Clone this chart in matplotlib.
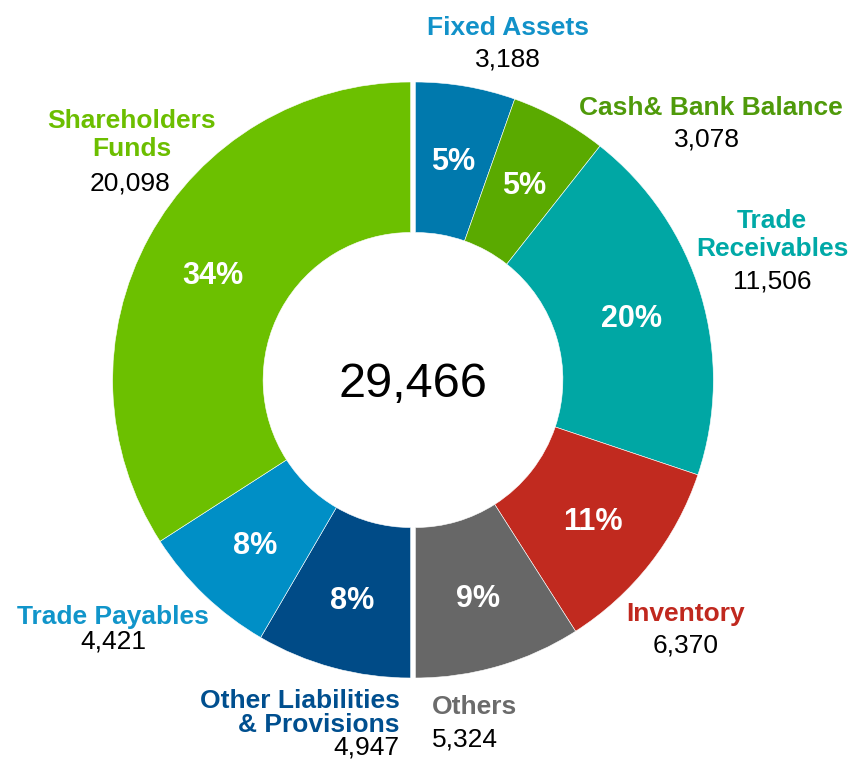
import matplotlib
matplotlib.use("Agg")
import matplotlib.pyplot as plt
import numpy as np

plt.rcParams['font.family'] = ['Liberation Sans', 'DejaVu Sans']

# data: right half (assets) then left half (liabilities), clockwise from top
labels = ["Fixed Assets", "Cash& Bank Balance", "Trade\nReceivables", "Inventory", "Others",
          "Other Liabilities\n& Provisions", "Trade Payables", "Shareholders\nFunds"]
values = [3188, 3078, 11506, 6370, 5324, 4947, 4421, 20098]
value_text = ["3,188", "3,078", "11,506", "6,370", "5,324", "4,947", "4,421", "20,098"]
center_text = "29,466"

wedge_colors = ["#0079ad", "#5aaa00", "#00a7a4", "#c12a1f", "#676767", "#004b87", "#008fc6", "#6cc000"]
label_colors = ["#1292c9", "#4f9a0a", "#00a9a7", "#c0281e", "#6b6b6b", "#004f8f", "#1195ca", "#6cbe00"]

# label block centres in pixels, alignment, line spacing
CX, CY, R = 413, 380, 298
label_pos = [(508, 28, "center", 1.2), (711, 108, "center", 1.2), (772, 235, "center", 1.2),
             (686, 614, "center", 1.2), (432, 707, "left", 1.2), (400, 713, "right", 1.05),
             (113, 617, "center", 1.2), (132, 135, "center", 1.2)]
value_pos = [(508, 60), (707, 140), (772, 282), (686, 646), (432, 739), (400, 748), (113, 641), (130, 183)]


def px(x, y):
    return (x - CX) / R, (CY - y) / R


fig = plt.figure(figsize=(8.52, 7.62), dpi=100)
ax = fig.add_axes([0, 0, 1, 1])

total = sum(values)
pcts = [f"{round(v / total * 100):.0f}%" for v in values]

wedges, _ = ax.pie(values, colors=wedge_colors, startangle=90, counterclock=False,
                   radius=1.0, wedgeprops=dict(width=0.505, edgecolor="white", linewidth=0.4))

# split the two halves with a small gap
n_right = 5
gap = 0.008
for i, w in enumerate(wedges):
    w.set_center((gap, 0) if i < n_right else (-gap, 0))

# percentage labels in the middle of the ring
for i, w in enumerate(wedges):
    ang = np.deg2rad((w.theta1 + w.theta2) / 2)
    r = 0.755
    ax.text(w.center[0] + r * np.cos(ang), r * np.sin(ang), pcts[i], color="white", fontsize=22,
            fontweight="bold", ha="center", va="center_baseline")

ax.text(*px(413, 385), center_text, fontsize=35, ha="center", va="center", color="black")

for i in range(len(labels)):
    lx, ly, ha, ls = label_pos[i]
    x, y = px(lx, ly)
    ax.text(x, y, labels[i], color=label_colors[i], fontsize=19, fontweight="bold",
            ha=ha, va="center", linespacing=ls, multialignment=ha)
    vx, vy = value_pos[i]
    x, y = px(vx, vy)
    ax.text(x, y, value_text[i], color="black", fontsize=19, ha=ha, va="center")

ax.set_xlim((0 - CX) / R, (852 - CX) / R)
ax.set_ylim((CY - 762) / R, CY / R)
ax.set_aspect("equal")
ax.axis("off")

fig.savefig("out.png", dpi=100)
